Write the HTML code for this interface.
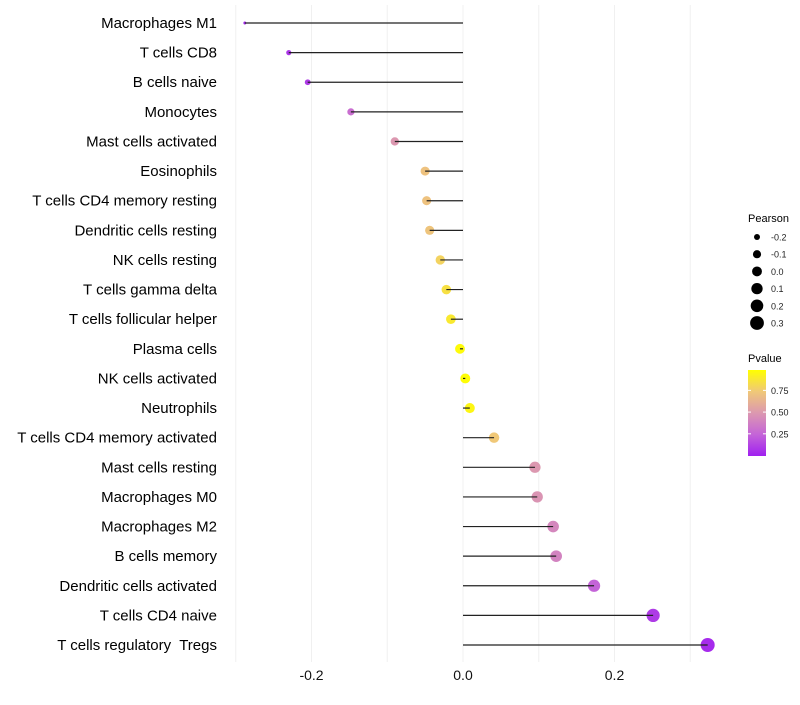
<!DOCTYPE html>
<html><head><meta charset="utf-8"><style>
body{margin:0;background:#fff;font-family:"Liberation Sans",sans-serif;}
svg text{font-family:"Liberation Sans",sans-serif;white-space:pre;}
</style></head><body>
<svg id="chart" width="800" height="700" xmlns="http://www.w3.org/2000/svg">
<g id="grid"></g>
<g id="marks"></g>
<g id="ylab"></g>
<g id="xlab"></g>
<g id="legend"></g>
</svg>
<script>
const categories=["Macrophages M1","T cells CD8","B cells naive","Monocytes","Mast cells activated","Eosinophils","T cells CD4 memory resting","Dendritic cells resting","NK cells resting","T cells gamma delta","T cells follicular helper","Plasma cells","NK cells activated","Neutrophils","T cells CD4 memory activated","Mast cells resting","Macrophages M0","Macrophages M2","B cells memory","Dendritic cells activated","T cells CD4 naive","T cells regulatory  Tregs"];
const pearson=[-0.288,-0.230,-0.205,-0.148,-0.090,-0.050,-0.048,-0.044,-0.030,-0.022,-0.016,-0.004,0.003,0.009,0.041,0.095,0.098,0.119,0.123,0.173,0.251,0.323];
const pvalue=[0.03,0.08,0.1,0.3,0.5,0.72,0.72,0.73,0.8,0.86,0.9,0.98,0.99,0.96,0.75,0.5,0.48,0.42,0.4,0.25,0.1,0.04];
const xTicks=[-0.2,0.0,0.2];
const xTickLabels=["-0.2","0.0","0.2"];
const sizeLegend=[-0.2,-0.1,0.0,0.1,0.2,0.3];
const pTicks=[0.25,0.5,0.75];
const NS="http://www.w3.org/2000/svg";
const X=v=>463+v*757.5;
const Y=i=>23+i*29.62;
const R=v=>Math.sqrt(2+Math.max(0,v+0.29)/0.61*47);
const stops=[[0,[160,32,240]],[0.25,[196,100,216]],[0.5,[220,152,176]],[0.75,[240,200,120]],[1,[255,255,0]]];
function col(p){for(let k=1;k<stops.length;k++){if(p<=stops[k][0]){const a=stops[k-1],b=stops[k],t=(p-a[0])/(b[0]-a[0]);return "rgb("+a[1].map((c,j)=>Math.round(c+(b[1][j]-c)*t)).join(",")+")";}}return "rgb(255,255,0)";}
function el(t,a,parent){const e=document.createElementNS(NS,t);for(const k in a)e.setAttribute(k,a[k]);parent.appendChild(e);return e;}
const grid=document.getElementById('grid'),marks=document.getElementById('marks'),ylab=document.getElementById('ylab'),xlab=document.getElementById('xlab'),leg=document.getElementById('legend');
[-0.3,-0.1,0.1,0.3].forEach(v=>{const l=el('line',{x1:X(v),x2:X(v),y1:5,y2:662,stroke:'#f0f0f0','stroke-width':1},grid);

});
xTicks.forEach((v,i)=>{const l=el('line',{x1:X(v),x2:X(v),y1:5,y2:662,stroke:'#f0f0f0','stroke-width':1},grid);


const t=el('text',{x:X(v),y:680,'font-size':14,fill:'#111','text-anchor':'middle'},xlab);t.textContent=xTickLabels[i];

});
categories.forEach((c,i)=>{const y=Y(i);
const d=el('circle',{cx:X(pearson[i]),cy:y,r:R(pearson[i]),fill:col(pvalue[i])},marks);


const s=el('line',{x1:X(0),x2:X(pearson[i]),y1:y,y2:y,stroke:'#222','stroke-width':1.2},marks);


const t=el('text',{x:217,y:y+5,'font-size':15,fill:'#000','text-anchor':'end'},ylab);t.textContent=c;

});
let t=el('text',{x:748,y:222,'font-size':11,fill:'#000'},leg);t.textContent="Pearson";


sizeLegend.forEach((v,i)=>{const y=237+i*17.2;
const c=el('circle',{cx:757,cy:y,r:R(v),fill:'#000'},leg);


const tt=el('text',{x:771,y:y+3.5,'font-size':9,fill:'#222'},leg);tt.textContent=v.toFixed(1);

});
t=el('text',{x:748,y:362,'font-size':11,fill:'#000'},leg);t.textContent="Pvalue";


const defs=el('defs',{},leg);const g=el('linearGradient',{id:'pg',x1:0,y1:1,x2:0,y2:0},defs);
stops.forEach(s=>el('stop',{offset:s[0],'stop-color':'rgb('+s[1].join(',')+')'},g));
const bar=el('rect',{x:748,y:370,width:18,height:86,fill:'url(#pg)'},leg);


const PY=p=>455-(p-0.006)*86/0.99;
pTicks.forEach(p=>{const y=PY(p);el('line',{x1:748,x2:751,y1:y,y2:y,stroke:'#fff'},leg);el('line',{x1:763,x2:766,y1:y,y2:y,stroke:'#fff'},leg);
const tt=el('text',{x:771,y:y+3.5,'font-size':9,fill:'#222'},leg);tt.textContent=p.toFixed(2);

});
</script>
</body></html>
